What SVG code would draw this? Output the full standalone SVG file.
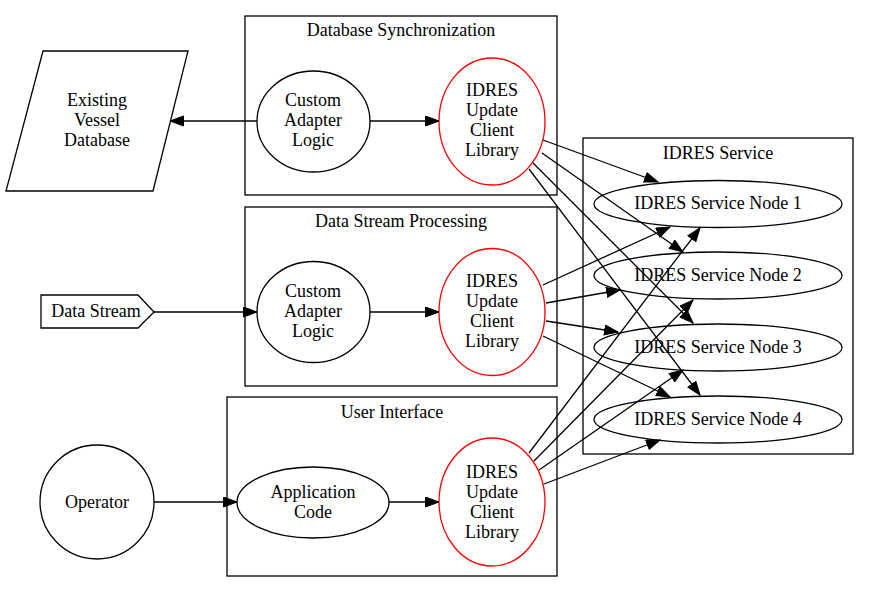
<svg xmlns="http://www.w3.org/2000/svg" width="869" height="593" viewBox="0 0 869 593">
<defs>
<style>
text{font-family:"Liberation Serif","Times New Roman",serif;font-size:18px;fill:#000;text-anchor:middle}
.cl{fill:none;stroke:#000;stroke-width:1.3}
.nd{fill:none;stroke:#000;stroke-width:1.3}
.rd{fill:none;stroke:#ff0000;stroke-width:1.3}
.ed{fill:none;stroke:#000;stroke-width:1.3;marker-end:url(#ah)}
</style>
<marker id="ah" markerWidth="16" markerHeight="12" refX="14" refY="5.5" orient="auto" markerUnits="userSpaceOnUse">
<path d="M0.5,0.5 L14,5.5 L0.5,10.5 z" fill="#000" stroke="#000" stroke-width="1"/>
</marker>
</defs>
<rect width="869" height="593" fill="#fff"/>

<g id="cluster_db">
<rect class="cl" x="245" y="16" width="312" height="179"/>
<text x="401" y="36">Database Synchronization</text>
</g>
<g id="cluster_ds">
<rect class="cl" x="245" y="207" width="312" height="179"/>
<text x="401" y="227">Data Stream Processing</text>
</g>
<g id="cluster_ui">
<rect class="cl" x="227" y="397" width="330" height="179"/>
<text x="392" y="418">User Interface</text>
</g>
<g id="cluster_svc">
<rect class="cl" x="583" y="138" width="270" height="316"/>
<text x="718" y="159">IDRES Service</text>
</g>

<g id="evd">
<polygon class="nd" points="43,51 188,51 153,191 6,191"/>
<text x="97" y="106">Existing</text>
<text x="97" y="126">Vessel</text>
<text x="97" y="146">Database</text>
</g>
<g id="datastream">
<polygon class="nd" points="41,295 138,295 154,312 138,328 41,328"/>
<text x="96" y="317">Data Stream</text>
</g>
<g id="operator">
<circle class="nd" cx="97" cy="502" r="57"/>
<text x="97" y="508">Operator</text>
</g>

<g id="ca_db">
<ellipse class="nd" cx="313.5" cy="121.5" rx="56.5" ry="50.5"/>
<text x="313" y="106">Custom</text>
<text x="313" y="126">Adapter</text>
<text x="313" y="146">Logic</text>
</g>
<g id="ic_db">
<ellipse class="rd" cx="492" cy="121.5" rx="53" ry="63.5"/>
<text x="492" y="96">IDRES</text>
<text x="492" y="116">Update</text>
<text x="492" y="136">Client</text>
<text x="492" y="156">Library</text>
</g>
<g id="ca_ds">
<ellipse class="nd" cx="313.5" cy="312" rx="56.5" ry="50.5"/>
<text x="313" y="297">Custom</text>
<text x="313" y="317">Adapter</text>
<text x="313" y="337">Logic</text>
</g>
<g id="ic_ds">
<ellipse class="rd" cx="492" cy="312" rx="53" ry="63.5"/>
<text x="492" y="287">IDRES</text>
<text x="492" y="307">Update</text>
<text x="492" y="327">Client</text>
<text x="492" y="347">Library</text>
</g>
<g id="app">
<ellipse class="nd" cx="313" cy="502.5" rx="76" ry="35.5"/>
<text x="313" y="498">Application</text>
<text x="313" y="518">Code</text>
</g>
<g id="ic_ui">
<ellipse class="rd" cx="492" cy="502" rx="53" ry="64"/>
<text x="492" y="478">IDRES</text>
<text x="492" y="498">Update</text>
<text x="492" y="518">Client</text>
<text x="492" y="538">Library</text>
</g>

<g id="svc1">
<ellipse class="nd" cx="718" cy="204" rx="124" ry="23.5"/>
<text x="718" y="209">IDRES Service Node 1</text>
</g>
<g id="svc2">
<ellipse class="nd" cx="718" cy="275.5" rx="124" ry="23.5"/>
<text x="718" y="281">IDRES Service Node 2</text>
</g>
<g id="svc3">
<ellipse class="nd" cx="718" cy="347.5" rx="124" ry="23.5"/>
<text x="718" y="353">IDRES Service Node 3</text>
</g>
<g id="svc4">
<ellipse class="nd" cx="718" cy="419.5" rx="124" ry="23.5"/>
<text x="718" y="425">IDRES Service Node 4</text>
</g>

<g id="connectors">
<path class="ed" d="M257,121 L170,121"/>
<path class="ed" d="M370,121 L439,121"/>
<path class="ed" d="M154,312 L257,312"/>
<path class="ed" d="M370,312 L439,312"/>
<path class="ed" d="M154,502 L237,502"/>
<path class="ed" d="M389,502 L439,502"/>

<path class="ed" d="M543,140 L658,182"/>
<path class="ed" d="M542,153 L683,252"/>
<path class="ed" d="M533,163 L693,323"/>
<path class="ed" d="M529,169 L700,395"/>

<path class="ed" d="M543,285 L670,227"/>
<path class="ed" d="M546,303 L620,290"/>
<path class="ed" d="M546,321 L618,332"/>
<path class="ed" d="M543,336 L670,397"/>

<path class="ed" d="M529,453 L700,228"/>
<path class="ed" d="M534,461 L693,300"/>
<path class="ed" d="M539,470 L683,370"/>
<path class="ed" d="M544,484 L660,440"/>
</g>
</svg>
